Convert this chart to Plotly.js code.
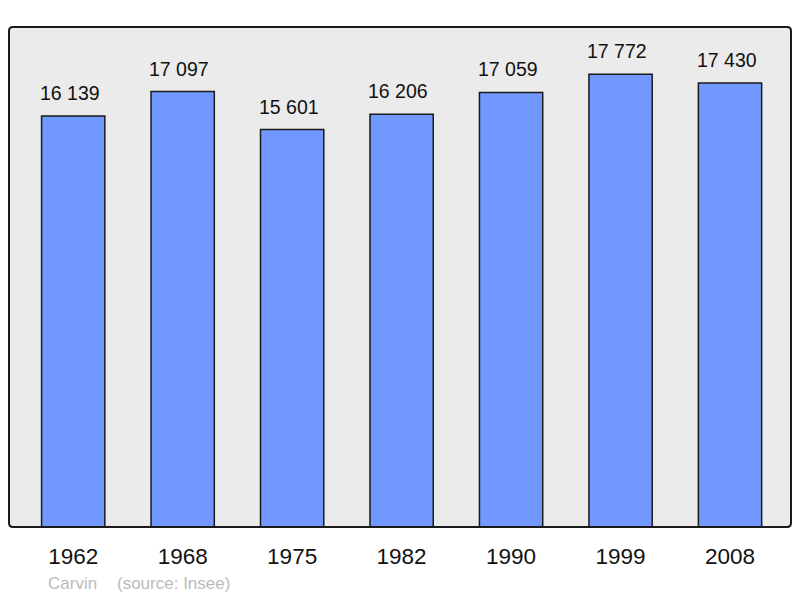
<!DOCTYPE html>
<html>
<head>
<meta charset="utf-8">
<script src="https://cdn.plot.ly/plotly-3.0.1.min.js"></script>
<style>
html,body{margin:0;padding:0;background:#fff;}
#chart{width:800px;height:598px;}
</style>
</head>
<body>
<div id="chart"></div>
<script>
const years = ["1962", "1968", "1975", "1982", "1990", "1999", "2008"];
const population = [16139, 17097, 15601, 16206, 17059, 17772, 17430];
const commune = "Carvin";
const source = "(source: Insee)";

function fmt(v) {
  return String(v).replace(/\B(?=(\d{3})+(?!\d))/g, " ");
}

const FONT = '"Liberation Sans", Arial, sans-serif';

const trace = {
  type: 'bar',
  x: years.map((_, i) => i),
  y: population,
  width: 0.578,
  marker: { color: '#7098ff', line: { color: '#1a1a1a', width: 1.5 } },
  hoverinfo: 'skip'
};

const rx = 4 / 782, ry = 4 / 500;
const framePath = `M ${rx},0 L ${1-rx},0 Q 1,0 1,${ry} L 1,${1-ry} Q 1,1 ${1-rx},1 L ${rx},1 Q 0,1 0,${1-ry} L 0,${ry} Q 0,0 ${rx},0 Z`;

const annotations = population.map((v, i) => ({
  x: i, y: v, xref: 'x', yref: 'y',
  text: fmt(v), showarrow: false,
  yanchor: 'bottom', xanchor: 'center', yshift: 10, xshift: -3.5,
  font: { family: FONT, size: 19.5, color: '#111' }
}));
annotations.push({
  xref: 'paper', yref: 'paper', x: (46 - 9) / 782, y: -(583 - 527) / 500,
  xanchor: 'left', yanchor: 'middle', showarrow: false,
  text: commune, font: { family: FONT, size: 17, color: '#bbbbbb' }
});
annotations.push({
  xref: 'paper', yref: 'paper', x: (115 - 9) / 782, y: -(583 - 527) / 500,
  xanchor: 'left', yanchor: 'middle', showarrow: false,
  text: source, font: { family: FONT, size: 17, color: '#bbbbbb' }
});

const layout = {
  width: 800, height: 598,
  margin: { l: 9, r: 9, t: 27, b: 71, pad: 0 },
  paper_bgcolor: '#ffffff',
  plot_bgcolor: 'rgba(0,0,0,0)',
  showlegend: false,
  xaxis: {
    range: [-0.5865, 6.557],
    tickmode: 'array',
    tickvals: years.map((_, i) => i),
    ticktext: years,
    ticks: '',
    ticklabelstandoff: 13,
    tickfont: { family: FONT, size: 22.5, color: '#111' },
    showgrid: false, zeroline: false, showline: false, fixedrange: true
  },
  yaxis: {
    range: [0, 19630],
    showticklabels: false, ticks: '',
    showgrid: false, zeroline: false, showline: false, fixedrange: true
  },
  shapes: [{
    type: 'path', xref: 'paper', yref: 'paper', path: framePath,
    fillcolor: '#ebebeb', line: { color: 'rgba(0,0,0,0)', width: 0 }, layer: 'below'
  }, {
    type: 'path', xref: 'paper', yref: 'paper', path: framePath,
    fillcolor: 'rgba(0,0,0,0)', line: { color: '#1a1a1a', width: 2 }, layer: 'above'
  }],
  annotations: annotations
};

Plotly.newPlot('chart', [trace], layout, { staticPlot: true, displayModeBar: false });
</script>
</body>
</html>
